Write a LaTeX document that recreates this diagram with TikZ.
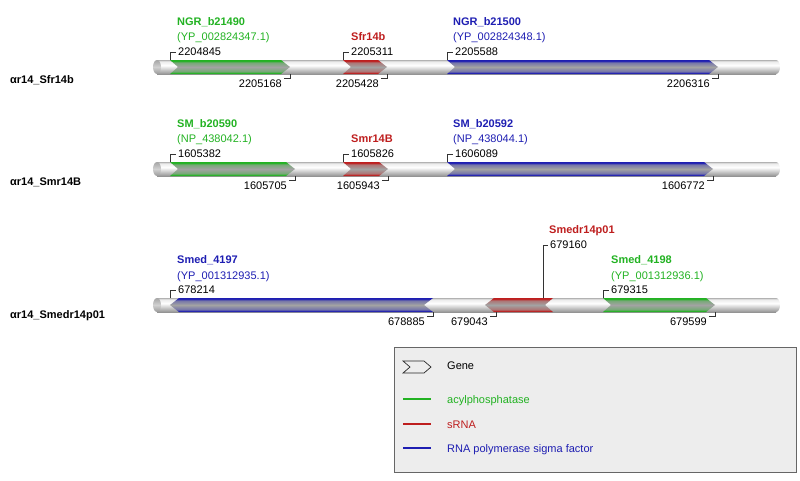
\documentclass[tikz,border=0pt]{standalone}
\usepackage{fontspec}
\setmainfont{Liberation Sans}
\usepackage{tikz}

\definecolor{accgreen}{RGB}{34,178,34}
\definecolor{srnared}{RGB}{190,30,30}
\definecolor{polblue}{RGB}{30,30,178}
\colorlet{midgray}{black!36}

\pgfdeclareverticalshading{trackshade}{100bp}{color(0bp)=(black!42); color(25bp)=(black!42); color(56bp)=(white); color(70bp)=(black!8); color(75bp)=(black!30); color(100bp)=(black!30)}
\pgfdeclareverticalshading{capshade}{100bp}{color(0bp)=(black!40); color(25bp)=(black!40); color(50bp)=(black!18); color(75bp)=(black!35); color(100bp)=(black!35)}
\pgfdeclareverticalshading{greenshade}{100bp}{color(0bp)=(accgreen); color(25bp)=(accgreen); color(28bp)=(accgreen); color(34bp)=(accgreen!35!midgray); color(50bp)=(midgray); color(66bp)=(accgreen!35!midgray); color(72bp)=(accgreen); color(75bp)=(accgreen); color(100bp)=(accgreen)}
\pgfdeclareverticalshading{redshade}{100bp}{color(0bp)=(srnared); color(25bp)=(srnared); color(28bp)=(srnared); color(34bp)=(srnared!35!midgray); color(50bp)=(midgray); color(66bp)=(srnared!35!midgray); color(72bp)=(srnared); color(75bp)=(srnared); color(100bp)=(srnared)}
\pgfdeclareverticalshading{blueshade}{100bp}{color(0bp)=(polblue); color(25bp)=(polblue); color(28bp)=(polblue); color(34bp)=(polblue!35!midgray); color(50bp)=(midgray); color(66bp)=(polblue!35!midgray); color(72bp)=(polblue); color(75bp)=(polblue); color(100bp)=(polblue)}

\tikzset{
	txt/.style={font=\fontsize{11}{13}\selectfont},
	trackbar/.style={shading=trackshade},
	trackcap/.style={shading=capshade},
	greengene/.style={shading=greenshade},
	redgene/.style={shading=redshade},
	bluegene/.style={shading=blueshade},
	rowname/.style={txt, inner sep=0, anchor=base west, font=\fontsize{11}{13}\selectfont\bfseries},
	genename/.style={txt, inner sep=0, anchor=base west, font=\fontsize{11}{13}\selectfont\bfseries},
	accession/.style={txt, inner sep=0, anchor=base west},
	startpos/.style={txt, inner sep=2pt, anchor=west},
	endpos/.style={txt, inner sep=2pt, anchor=north east},
	tick/.style={black!80, line width=0.6pt},
}

\begin{document}
\begin{tikzpicture}[x=1pt, y=-1pt]
	\useasboundingbox (0,0) rectangle (800,480);
	
	% tracks
	\foreach \ty in {67,169,305} {
		\path [trackbar] (157,\ty-7) rectangle (776,\ty+7);
		\path [trackbar] (776,\ty) ellipse [x radius=4, y radius=7];
		\path [trackcap] (157,\ty) ellipse [x radius=4, y radius=7];
	}
	
	% row 1
	\node [rowname, name=row1] at (10,83) {αr14\_Sfr14b};
	
	\path [greengene] (170,60) -- (281,60) -- (290,67) -- (281,74) -- (170,74) -- (178,67) -- cycle;
	\path [redgene] (343,60) -- (378,60) -- (387,67) -- (378,74) -- (343,74) -- (351,67) -- cycle;
	\path [bluegene] (447,60) -- (709,60) -- (718,67) -- (709,74) -- (447,74) -- (455,67) -- cycle;
	
	\node [genename, text=accgreen, name=name1] at (177,25) {NGR\_b21490};
	\node [accession, text=accgreen, name=acc1] at (177,40) {(YP\_002824347.1)};
	\node [genename, text=srnared, name=name2] at (351,40) {Sfr14b};
	\node [genename, text=polblue, name=name3] at (453,25) {NGR\_b21500};
	\node [accession, text=polblue, name=acc3] at (453,40) {(YP\_002824348.1)};
	
	\coordinate (g1s) at (170,60);
	\coordinate (g1e) at (290,74);
	\coordinate (g2s) at (343,60);
	\coordinate (g2e) at (387,74);
	\coordinate (g3s) at (447,60);
	\coordinate (g3e) at (718,74);
	\node [startpos, name=p1s] at (176,52) {2204845};
	\node [endpos, name=p1e] at (284,78) {2205168};
	\node [startpos, name=p2s] at (349,52) {2205311};
	\node [endpos, name=p2e] at (381,78) {2205428};
	\node [startpos, name=p3s] at (453,52) {2205588};
	\node [endpos, name=p3e] at (712,78) {2206316};
	\draw [tick] (g1s) |- (p1s.west);
	\draw [tick] (g1e) |- (p1e.north east);
	\draw [tick] (g2s) |- (p2s.west);
	\draw [tick] (g2e) |- (p2e.north east);
	\draw [tick] (g3s) |- (p3s.west);
	\draw [tick] (g3e) |- (p3e.north east);
	
	% row 2
	\node [rowname, name=row2] at (10,185) {αr14\_Smr14B};
	
	\path [greengene] (170,162) -- (286,162) -- (295,169) -- (286,176) -- (170,176) -- (178,169) -- cycle;
	\path [redgene] (343,162) -- (379,162) -- (388,169) -- (379,176) -- (343,176) -- (351,169) -- cycle;
	\path [bluegene] (447,162) -- (704,162) -- (713,169) -- (704,176) -- (447,176) -- (455,169) -- cycle;
	
	\node [genename, text=accgreen, name=name4] at (177,127) {SM\_b20590};
	\node [accession, text=accgreen, name=acc4] at (177,142) {(NP\_438042.1)};
	\node [genename, text=srnared, name=name5] at (351,142) {Smr14B};
	\node [genename, text=polblue, name=name6] at (453,127) {SM\_b20592};
	\node [accession, text=polblue, name=acc6] at (453,142) {(NP\_438044.1)};
	
	\coordinate (g4s) at (170,162);
	\coordinate (g4e) at (295,176);
	\coordinate (g5s) at (343,162);
	\coordinate (g5e) at (388,176);
	\coordinate (g6s) at (447,162);
	\coordinate (g6e) at (713,176);
	\node [startpos, name=p4s] at (176,154) {1605382};
	\node [endpos, name=p4e] at (289,180) {1605705};
	\node [startpos, name=p5s] at (349,154) {1605826};
	\node [endpos, name=p5e] at (382,180) {1605943};
	\node [startpos, name=p6s] at (453,154) {1606089};
	\node [endpos, name=p6e] at (707,180) {1606772};
	\draw [tick] (g4s) |- (p4s.west);
	\draw [tick] (g4e) |- (p4e.north east);
	\draw [tick] (g5s) |- (p5s.west);
	\draw [tick] (g5e) |- (p5e.north east);
	\draw [tick] (g6s) |- (p6s.west);
	\draw [tick] (g6e) |- (p6e.north east);
	
	% row 3
	\node [rowname, name=row3] at (10,318) {αr14\_Smedr14p01};
	
	\path [bluegene] (170,305) -- (179,298) -- (433,298) -- (424,305) -- (433,312) -- (179,312) -- cycle;
	\path [redgene] (485,305) -- (494,298) -- (553,298) -- (545,305) -- (553,312) -- (494,312) -- cycle;
	\path [greengene] (603,298) -- (706,298) -- (715,305) -- (706,312) -- (603,312) -- (611,305) -- cycle;
	
	\node [genename, text=polblue, name=name7] at (177,263) {Smed\_4197};
	\node [accession, text=polblue, name=acc7] at (177,279) {(YP\_001312935.1)};
	\node [genename, text=srnared, name=name8] at (549,233) {Smedr14p01};
	\node [genename, text=accgreen, name=name9] at (611,263) {Smed\_4198};
	\node [accession, text=accgreen, name=acc9] at (611,279) {(YP\_001312936.1)};
	
	\coordinate (g7s) at (170,298);
	\coordinate (g7e) at (433,312);
	\coordinate (g8s) at (496,312);
	\coordinate (g8e) at (543,298);
	\coordinate (g9s) at (603,298);
	\coordinate (g9e) at (715,312);
	\node [startpos, name=p7s] at (176,290) {678214};
	\node [endpos, name=p7e] at (427,316) {678885};
	\node [endpos, name=p8s] at (490,316) {679043};
	\node [startpos, name=p8e] at (548,245) {679160};
	\node [startpos, name=p9s] at (609,290) {679315};
	\node [endpos, name=p9e] at (709,316) {679599};
	\draw [tick] (g7s) |- (p7s.west);
	\draw [tick] (g7e) |- (p7e.north east);
	\draw [tick] (g8s) |- (p8s.north east);
	\draw [tick] (g8e) |- (p8e.west);
	\draw [tick] (g9s) |- (p9s.west);
	\draw [tick] (g9e) |- (p9e.north east);
	
	% legend
	\path [draw=black!60, fill=black!7, line width=0.8pt] (394,347) rectangle (796,472);
	\draw [black!85, line width=0.7pt] (403,361) -- (424,361) -- (431,367) -- (424,373) -- (403,373) -- (410,367) -- cycle;
	\fill [fill=accgreen] (403,398.4) rectangle (431,399.6);
	\fill [fill=srnared] (403,423.4) rectangle (431,424.6);
	\fill [fill=polblue] (403,447.4) rectangle (431,448.6);
	\node [accession, name=keygene] at (447,369) {Gene};
	\node [accession, text=accgreen, name=keyacy] at (447,403) {acylphosphatase};
	\node [accession, text=srnared, name=keysrna] at (447,428) {sRNA};
	\node [accession, text=polblue, name=keypol] at (447,452) {RNA polymerase sigma factor};
	
\end{tikzpicture}
\end{document}
